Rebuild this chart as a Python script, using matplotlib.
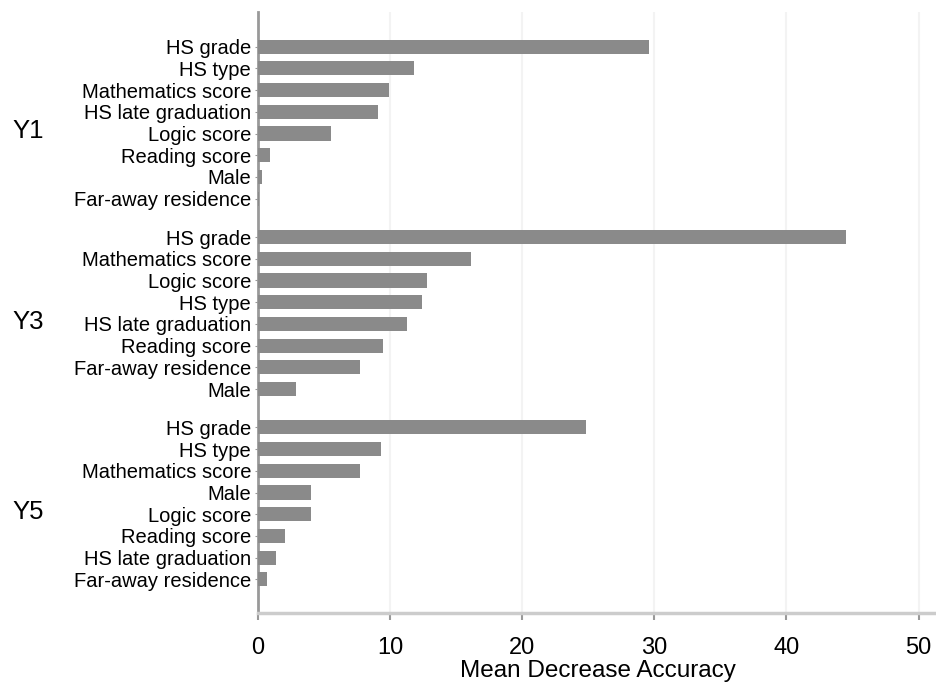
import numpy as np
import matplotlib.pyplot as plt

plt.rcParams['font.family'] = ['Liberation Sans', 'DejaVu Sans']

groups = ["Y1", "Y3", "Y5"]

y1_labels = ["HS grade", "HS type", "Mathematics score", "HS late graduation",
             "Logic score", "Reading score", "Male", "Far-away residence"]
y1_values = [29.6, 11.8, 9.9, 9.1, 5.5, 0.9, 0.3, 0.1]

y3_labels = ["HS grade", "Mathematics score", "Logic score", "HS type",
             "HS late graduation", "Reading score", "Far-away residence", "Male"]
y3_values = [44.5, 16.1, 12.8, 12.4, 11.3, 9.5, 7.7, 2.85]

y5_labels = ["HS grade", "HS type", "Mathematics score", "Male",
             "Logic score", "Reading score", "HS late graduation", "Far-away residence"]
y5_values = [24.8, 9.3, 7.7, 4.0, 4.0, 2.05, 1.4, 0.7]

all_labels = [y1_labels, y3_labels, y5_labels]
all_values = [y1_values, y3_values, y5_values]

fig = plt.figure(figsize=(9.37, 6.82), dpi=100)
ax = fig.add_axes([258 / 937, 1 - 613 / 682, 1 - 258 / 937, (613 - 12) / 682])

# расстояние между группами (в шагах между полосами)
step = 8.77
ticks = []
names = []
for g, (labs, vals) in enumerate(zip(all_labels, all_values)):
    pos = g * step + np.arange(len(vals))
    ax.barh(pos, vals, height=0.65, color="#8a8a8a", zorder=3)
    ticks.extend(pos)
    names.extend(labs)
    ax.text(-0.339, g * step + 3.9, groups[g], transform=ax.get_yaxis_transform(),
            ha="center", va="center", fontsize=18.5)

ax.set_yticks(ticks)
ax.set_yticklabels(names, fontsize=14.5)
ax.set_ylim(26.09, -1.6)
ax.set_xlim(0, 51.4)
ax.set_xticks([0, 10, 20, 30, 40, 50])
ax.tick_params(axis="x", labelsize=17, colors="#999999", labelcolor="black",
               length=5, width=1.5, pad=12)
ax.tick_params(axis="y", length=2, colors="#999999", labelcolor="black", pad=3)
ax.set_xlabel("Mean Decrease Accuracy", fontsize=17.5, labelpad=1)

ax.grid(axis="x", color="#f3f3f3", linewidth=1.5, zorder=0)
for s in ["top", "right"]:
    ax.spines[s].set_visible(False)
ax.spines["left"].set_color("#999999")
ax.spines["left"].set_linewidth(2)
ax.spines["bottom"].set_color("#cccccc")
ax.spines["bottom"].set_linewidth(2.5)

fig.savefig("out.png", dpi=100)
